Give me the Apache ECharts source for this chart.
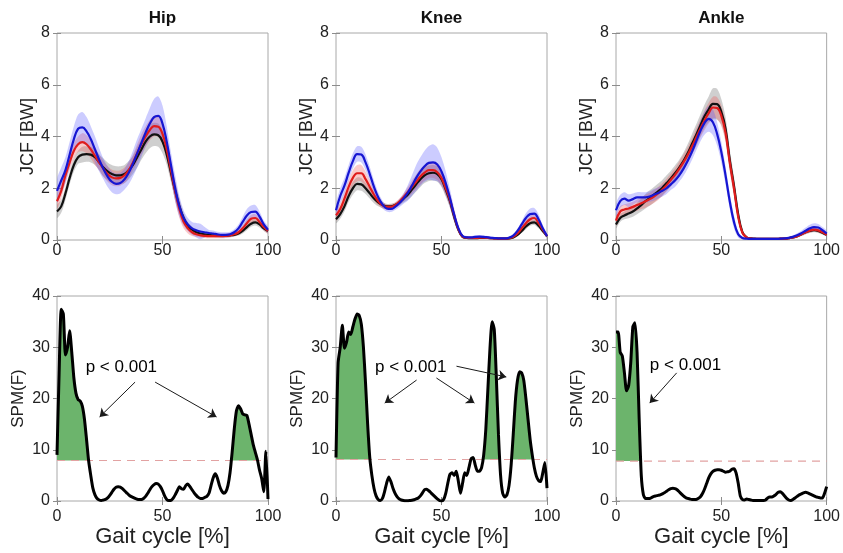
<!DOCTYPE html>
<html>
<head>
<meta charset="utf-8">
<title>JCF and SPM</title>
<script src="https://cdn.jsdelivr.net/npm/echarts@6/dist/echarts.min.js"></script>
<style>
	html, body { margin: 0; padding: 0; background: #fff; }
	#main { width: 843px; height: 553px; }
</style>
</head>
<body>
<div id="main"></div>
<script>
var joints = ['Hip', 'Knee', 'Ankle'];
var jcfTicks = [0, 2, 4, 6, 8];
var spmTicks = [0, 10, 20, 30, 40];
var annotText = 'p < 0.001';

// gait cycle samples (%)
var gaitX = [];
for (var i = 0; i <= 100; i += 2) gaitX.push(i);
var spmX = [];
for (i = 0; i <= 100; i++) spmX.push(i);

// ---- JCF means and sd, one value every 2 % ----
var hipBlackMean = [
	1.1, 1.3, 1.8, 2.4, 2.9, 3.2, 3.3, 3.32, 3.3, 3.2,
	3.0, 2.8, 2.65, 2.55, 2.5, 2.5, 2.55, 2.7, 2.9, 3.2,
	3.5, 3.8, 4.0, 4.08, 4.05, 3.8, 3.3, 2.6, 1.9, 1.3,
	0.85, 0.55, 0.4, 0.3, 0.25, 0.22, 0.2, 0.18, 0.17, 0.17,
	0.17, 0.18, 0.2, 0.25, 0.35, 0.5, 0.63, 0.68, 0.6, 0.45,
	0.35];
var hipBlackSd = [
	0.25, 0.25, 0.25, 0.25, 0.25, 0.25, 0.3, 0.3, 0.3, 0.3,
	0.3, 0.35, 0.35, 0.35, 0.35, 0.35, 0.35, 0.35, 0.35, 0.4,
	0.4, 0.45, 0.45, 0.45, 0.45, 0.45, 0.4, 0.35, 0.35, 0.3,
	0.2, 0.15, 0.12, 0.1, 0.08, 0.06, 0.06, 0.06, 0.06, 0.06,
	0.06, 0.06, 0.06, 0.08, 0.1, 0.12, 0.12, 0.12, 0.12, 0.1,
	0.1];
var hipRedMean = [
	1.5, 1.9, 2.5, 3.0, 3.45, 3.7, 3.78, 3.7, 3.5, 3.25,
	3.0, 2.75, 2.55, 2.42, 2.38, 2.4, 2.5, 2.7, 3.0, 3.35,
	3.7, 4.0, 4.25, 4.4, 4.38, 4.1, 3.5, 2.7, 1.9, 1.2,
	0.7, 0.45, 0.3, 0.22, 0.18, 0.16, 0.15, 0.15, 0.15, 0.15,
	0.16, 0.18, 0.22, 0.3, 0.45, 0.65, 0.82, 0.85, 0.7, 0.5,
	0.35];
var hipRedSd = [
	0.3, 0.3, 0.3, 0.3, 0.3, 0.3, 0.35, 0.35, 0.35, 0.35,
	0.3, 0.3, 0.3, 0.3, 0.3, 0.3, 0.3, 0.3, 0.3, 0.35,
	0.4, 0.4, 0.4, 0.4, 0.4, 0.4, 0.4, 0.4, 0.4, 0.35,
	0.25, 0.2, 0.15, 0.1, 0.08, 0.08, 0.08, 0.08, 0.08, 0.08,
	0.08, 0.08, 0.08, 0.1, 0.12, 0.15, 0.15, 0.15, 0.15, 0.12,
	0.1];
var hipBlueMean = [
	1.9, 2.3, 2.7, 3.3, 3.9, 4.3, 4.35, 4.2, 3.9, 3.5,
	3.1, 2.75, 2.45, 2.25, 2.17, 2.2, 2.35, 2.6, 2.95, 3.35,
	3.75, 4.15, 4.5, 4.75, 4.8, 4.5, 3.8, 2.9, 2.0, 1.3,
	0.85, 0.6, 0.45, 0.38, 0.33, 0.3, 0.27, 0.25, 0.22, 0.2,
	0.2, 0.22, 0.3, 0.45, 0.7, 0.95, 1.08, 1.1, 0.9, 0.6,
	0.4];
var hipBlueSd = [
	0.45, 0.5, 0.5, 0.5, 0.5, 0.55, 0.6, 0.55, 0.5, 0.5,
	0.45, 0.4, 0.4, 0.4, 0.4, 0.4, 0.4, 0.45, 0.5, 0.55,
	0.55, 0.55, 0.6, 0.7, 0.75, 0.7, 0.6, 0.5, 0.5, 0.4,
	0.3, 0.25, 0.25, 0.28, 0.3, 0.2, 0.12, 0.12, 0.1, 0.1,
	0.1, 0.1, 0.12, 0.15, 0.2, 0.25, 0.25, 0.25, 0.2, 0.15,
	0.12];

var kneeBlackMean = [
	0.8, 1.0, 1.3, 1.7, 2.0, 2.17, 2.15, 2.0, 1.8, 1.6,
	1.45, 1.35, 1.3, 1.3, 1.35, 1.45, 1.6, 1.75, 1.95, 2.15,
	2.35, 2.5, 2.58, 2.6, 2.55, 2.35, 1.95, 1.5, 0.9, 0.4,
	0.12, 0.08, 0.07, 0.07, 0.08, 0.08, 0.08, 0.07, 0.06, 0.05,
	0.05, 0.06, 0.1, 0.2, 0.35, 0.52, 0.65, 0.68, 0.55, 0.35,
	0.15];
var kneeBlackSd = [
	0.15, 0.18, 0.2, 0.22, 0.25, 0.25, 0.25, 0.22, 0.2, 0.18,
	0.15, 0.12, 0.1, 0.1, 0.1, 0.12, 0.15, 0.2, 0.25, 0.28,
	0.3, 0.3, 0.3, 0.3, 0.3, 0.3, 0.28, 0.25, 0.2, 0.12,
	0.05, 0.04, 0.04, 0.04, 0.04, 0.04, 0.04, 0.04, 0.04, 0.04,
	0.04, 0.04, 0.05, 0.06, 0.08, 0.1, 0.1, 0.1, 0.1, 0.08,
	0.05];
var kneeRedMean = [
	0.95, 1.2, 1.6, 2.05, 2.4, 2.58, 2.58, 2.35, 2.05, 1.75,
	1.5, 1.35, 1.28, 1.28, 1.35, 1.48, 1.65, 1.85, 2.05, 2.25,
	2.45, 2.6, 2.7, 2.7, 2.62, 2.4, 2.0, 1.55, 0.95, 0.42,
	0.13, 0.09, 0.08, 0.08, 0.09, 0.09, 0.08, 0.07, 0.06, 0.05,
	0.05, 0.07, 0.12, 0.25, 0.45, 0.65, 0.8, 0.85, 0.65, 0.4,
	0.15];
var kneeRedSd = [
	0.2, 0.22, 0.25, 0.28, 0.3, 0.32, 0.32, 0.3, 0.25, 0.2,
	0.15, 0.12, 0.1, 0.1, 0.1, 0.12, 0.15, 0.2, 0.25, 0.28,
	0.3, 0.3, 0.3, 0.3, 0.3, 0.3, 0.28, 0.25, 0.2, 0.12,
	0.05, 0.04, 0.04, 0.04, 0.04, 0.04, 0.04, 0.04, 0.04, 0.04,
	0.04, 0.04, 0.05, 0.06, 0.08, 0.12, 0.12, 0.12, 0.12, 0.08,
	0.05];
var kneeBlueMean = [
	1.15, 1.7, 2.1, 2.6, 3.05, 3.32, 3.3, 3.0, 2.55, 2.05,
	1.65, 1.38, 1.22, 1.2, 1.28, 1.42, 1.6, 1.82, 2.1, 2.4,
	2.65, 2.85, 2.98, 3.0, 2.92, 2.65, 2.2, 1.62, 0.98, 0.45,
	0.15, 0.1, 0.1, 0.12, 0.13, 0.12, 0.1, 0.08, 0.07, 0.06,
	0.06, 0.09, 0.17, 0.35, 0.6, 0.85, 1.0, 1.02, 0.8, 0.45,
	0.15];
var kneeBlueSd = [
	0.25, 0.3, 0.3, 0.3, 0.3, 0.3, 0.3, 0.3, 0.28, 0.25,
	0.2, 0.15, 0.12, 0.12, 0.12, 0.15, 0.2, 0.3, 0.4, 0.5,
	0.55, 0.6, 0.65, 0.7, 0.65, 0.55, 0.45, 0.35, 0.25, 0.15,
	0.06, 0.05, 0.05, 0.06, 0.06, 0.05, 0.05, 0.05, 0.05, 0.05,
	0.05, 0.05, 0.06, 0.08, 0.12, 0.18, 0.22, 0.22, 0.2, 0.12,
	0.06];

var ankleBlackMean = [
	0.6, 0.85, 0.95, 1.02, 1.1, 1.22, 1.35, 1.5, 1.62, 1.75,
	1.88, 2.02, 2.2, 2.38, 2.58, 2.8, 3.05, 3.35, 3.7, 4.05,
	4.42, 4.78, 5.05, 5.26, 5.25, 4.95, 4.3, 3.1, 2.1, 1.0,
	0.3, 0.1, 0.06, 0.05, 0.04, 0.04, 0.04, 0.04, 0.04, 0.05,
	0.05, 0.07, 0.1, 0.15, 0.22, 0.3, 0.35, 0.38, 0.35, 0.28,
	0.2];
var ankleBlackSd = [
	0.15, 0.15, 0.15, 0.18, 0.2, 0.22, 0.25, 0.28, 0.3, 0.3,
	0.3, 0.3, 0.3, 0.3, 0.3, 0.3, 0.32, 0.35, 0.38, 0.4,
	0.42, 0.45, 0.5, 0.6, 0.6, 0.5, 0.45, 0.4, 0.35, 0.2,
	0.1, 0.04, 0.03, 0.03, 0.03, 0.03, 0.03, 0.03, 0.03, 0.03,
	0.03, 0.04, 0.05, 0.06, 0.07, 0.08, 0.08, 0.08, 0.08, 0.07,
	0.06];
var ankleRedMean = [
	0.75, 1.1, 1.18, 1.22, 1.28, 1.35, 1.42, 1.5, 1.58, 1.68,
	1.8, 1.95, 2.12, 2.32, 2.52, 2.75, 3.0, 3.28, 3.6, 3.95,
	4.3, 4.62, 4.9, 5.12, 5.1, 4.8, 4.15, 3.0, 2.0, 0.9,
	0.28, 0.1, 0.06, 0.04, 0.04, 0.04, 0.04, 0.04, 0.04, 0.05,
	0.05, 0.07, 0.1, 0.15, 0.22, 0.3, 0.36, 0.4, 0.37, 0.3,
	0.2];
var ankleRedSd = [
	0.2, 0.2, 0.2, 0.2, 0.2, 0.22, 0.22, 0.25, 0.25, 0.25,
	0.25, 0.25, 0.25, 0.25, 0.25, 0.28, 0.3, 0.3, 0.32, 0.35,
	0.35, 0.38, 0.4, 0.42, 0.42, 0.4, 0.38, 0.35, 0.3, 0.18,
	0.08, 0.04, 0.03, 0.03, 0.03, 0.03, 0.03, 0.03, 0.03, 0.03,
	0.03, 0.04, 0.05, 0.06, 0.07, 0.08, 0.08, 0.08, 0.08, 0.07,
	0.06];
var ankleBlueMean = [
	1.15, 1.5, 1.6, 1.52, 1.58, 1.65, 1.65, 1.65, 1.68, 1.75,
	1.82, 1.9, 2.0, 2.15, 2.3, 2.5, 2.75, 3.05, 3.4, 3.8,
	4.2, 4.52, 4.68, 4.55, 4.1, 3.4, 2.5, 1.5, 0.7, 0.22,
	0.08, 0.05, 0.04, 0.04, 0.04, 0.04, 0.04, 0.04, 0.04, 0.05,
	0.06, 0.08, 0.12, 0.18, 0.26, 0.36, 0.45, 0.5, 0.48, 0.38,
	0.25];
var ankleBlueSd = [
	0.25, 0.25, 0.25, 0.25, 0.22, 0.2, 0.2, 0.2, 0.2, 0.22,
	0.22, 0.22, 0.22, 0.22, 0.25, 0.25, 0.28, 0.3, 0.32, 0.35,
	0.4, 0.45, 0.5, 0.5, 0.45, 0.4, 0.35, 0.3, 0.25, 0.12,
	0.05, 0.03, 0.03, 0.03, 0.03, 0.03, 0.03, 0.03, 0.03, 0.03,
	0.04, 0.05, 0.06, 0.08, 0.1, 0.12, 0.14, 0.15, 0.14, 0.12,
	0.1];

// ---- SPM{F}, one value every 1 % ----
var hipSpm = [
	9.0, 25, 37.4, 36.5, 28.5, 30, 33.2, 29, 24, 21,
	19.8, 19.5, 18.5, 16, 12, 7.8, 5, 2.5, 1.2, 0.5,
	0.2, 0.1, 0.2, 0.3, 0.6, 1.1, 1.7, 2.3, 2.7, 2.8,
	2.7, 2.4, 2.0, 1.6, 1.2, 0.9, 0.7, 0.5, 0.35, 0.3,
	0.3, 0.5, 0.9, 1.5, 2.2, 2.8, 3.2, 3.4, 3.3, 2.8,
	2.0, 1.0, 0.3, 0.1, 0.1, 0.5, 1.2, 2.0, 2.8, 2.4,
	2.3, 3.0, 3.3, 2.8, 2.2, 1.6, 1.1, 0.7, 0.5, 0.5,
	0.7, 0.9, 1.5, 3.0, 4.5, 5.3, 4.5, 3.0, 2.0, 1.5,
	1.8, 3.0, 5.5, 9.5, 14, 17.5, 18.6, 18, 17, 16.8,
	16.7, 15, 13, 11, 9.5, 8, 6, 4.4, 1.8, 9.7,
	0.4];
var kneeSpm = [
	8.5, 27, 30, 34.3, 29.8, 31, 33, 32.5, 34, 35.5,
	36.5, 36.2, 34.5, 30, 23, 15, 8.5, 5, 2.5, 1,
	0.3, 0.1, 0.5, 1.8, 3.5, 4.7, 3.8, 2.5, 1.5, 0.8,
	0.4, 0.2, 0.1, 0.05, 0.05, 0.1, 0.15, 0.25, 0.4, 0.6,
	1.0, 1.6, 2.2, 2.3, 2.0, 1.6, 1.2, 0.8, 0.4, 0.1,
	0.0, 0.3, 1.5, 3.5, 5.2, 5.5, 5.0, 5.8, 3.8, 1.5,
	3.5, 5.5, 5.0, 6.5, 8.2, 8.5, 7.0, 5.8, 5.8, 6.5,
	9, 14, 22, 30, 35, 33.5, 24, 13, 5, 1.5,
	0.8, 1.2, 3, 7, 13, 19.5, 23.5, 25.2, 25, 23.5,
	20, 16, 12, 9, 6.5, 4.8, 4.0, 3.8, 5.5, 7.5,
	2.5];
var ankleSpm = [
	33, 33, 29, 28.3, 25, 21.5, 22.5, 27, 34, 34.8,
	29, 16, 5, 1.2, 0.5, 0.5, 0.5, 0.7, 0.9, 1.0,
	1.1, 1.2, 1.4, 1.6, 1.9, 2.2, 2.4, 2.5, 2.4, 2.2,
	1.8, 1.4, 1.0, 0.7, 0.5, 0.4, 0.3, 0.3, 0.3, 0.5,
	0.8, 1.4, 2.3, 3.4, 4.5, 5.3, 5.8, 6.0, 6.1, 6.1,
	6.0, 5.8, 5.6, 5.7, 5.8, 6.2, 6.3, 5.5, 3.5, 1.0,
	0.3, 0.2, 0.4, 0.3, 0.2, 0.1, 0.1, 0.1, 0.1, 0.1,
	0.1, 0.2, 0.6, 0.8, 0.8, 1.0, 1.3, 1.7, 1.8, 1.5,
	1.0, 0.5, 0.2, 0.1, 0.3, 0.6, 0.9, 1.2, 1.4, 1.6,
	1.7, 1.6, 1.4, 1.2, 1.0, 0.8, 0.7, 0.6, 0.6, 1.5,
	2.8];

// critical thresholds and supra-threshold clusters (% ranges)
var spmThreshold = [7.9, 8.1, 7.8];
var hipClusters = [[0, 15], [82, 96]];
var kneeClusters = [[0, 17], [69, 78], [82, 94]];
var ankleClusters = [[0, 12]];

// annotation text position and arrows [x1, y1, x2, y2] in data units
var annotPos = [[30.5, 26.1], [35.4, 26], [33, 26.5]];
var hipArrows = [[37, 23.2, 20.2, 16.4], [46.5, 23.2, 75.6, 16.4]];
var kneeArrows = [[38.2, 23.6, 23.1, 19.1], [47.6, 24, 65.6, 19.1], [57.1, 26.3, 80.7, 24.2]];
var ankleArrows = [[28.8, 25, 16, 19.1]];

var groupStyle = [
	{ line: '#111111', band: 'rgba(95,95,95,0.30)' },
	{ line: '#e01c1c', band: 'rgba(240,80,80,0.30)' },
	{ line: '#1616d2', band: 'rgba(85,85,255,0.30)' }
];
var jcfPanels = [
	[[hipBlackMean, hipBlackSd], [hipRedMean, hipRedSd], [hipBlueMean, hipBlueSd]],
	[[kneeBlackMean, kneeBlackSd], [kneeRedMean, kneeRedSd], [kneeBlueMean, kneeBlueSd]],
	[[ankleBlackMean, ankleBlackSd], [ankleRedMean, ankleRedSd], [ankleBlueMean, ankleBlueSd]]
];
var spmPanels = [hipSpm, kneeSpm, ankleSpm];
var clusterPanels = [hipClusters, kneeClusters, ankleClusters];
var arrowPanels = [hipArrows, kneeArrows, ankleArrows];

var lefts = [57, 336, 616];
var font = "'Liberation Sans', Arial, sans-serif";
var boxColor = '#a8a8a8';

function pairs(xs, ys) {
	return xs.map(function(x, i) { return [x, ys[i]]; });
}

// shaded region between lo and hi, drawn as one polygon through the axis scales
function bandSeries(g, xs, lo, hi, color, smooth) {
	var rows = xs.map(function(x, i) { return [x, lo[i], hi[i]]; });
	return {
		type: 'custom', xAxisIndex: 2 * g, yAxisIndex: 2 * g, silent: true, clip: true,
		data: rows, encode: { x: 0, y: [1, 2] },
		renderItem: function(params, api) {
			if (params.dataIndex !== 0) return null;
			var pts = [];
			rows.forEach(function(r) { pts.push(api.coord([r[0], r[2]])); });
			for (var k = rows.length - 1; k >= 0; k--) pts.push(api.coord([rows[k][0], rows[k][1]]));
			return {
				type: 'polygon', shape: { points: pts, smooth: smooth },
				style: { fill: color }
			};
		}
	};
}

var grids = [], xAxes = [], yAxes = [], series = [];

function addAxes(g, ymax, yint, isTop, k) {
	grids.push({
		left: lefts[k], width: 211,
		top: isTop ? 33 : 296, height: isTop ? 207 : 205,
		show: true, borderColor: boxColor, borderWidth: 1, backgroundColor: '#fff'
	});
	var tick = { show: true, inside: true, length: 4, lineStyle: { color: '#8c8c8c' } };
	xAxes.push({
		gridIndex: g, type: 'value', min: 0, max: 100, interval: 50,
		axisLine: { show: false }, axisTick: tick, splitLine: { show: false },
		axisLabel: { color: '#222', fontSize: 16, fontFamily: font, margin: isTop ? 3 : 8 },
		name: isTop ? '' : 'Gait cycle [%]', nameLocation: 'middle', nameGap: 25,
		nameTextStyle: { color: '#222', fontSize: 22, fontFamily: font }
	});
	xAxes.push({
		gridIndex: g, type: 'value', min: 0, max: 100, interval: 50, position: 'top',
		axisLine: { show: false }, axisTick: tick, splitLine: { show: false },
		axisLabel: { show: false },
		name: isTop ? joints[k] : '', nameLocation: 'middle', nameGap: 6,
		nameTextStyle: { color: '#111', fontSize: 17, fontWeight: 'bold', fontFamily: font }
	});
	yAxes.push({
		gridIndex: g, type: 'value', min: 0, max: ymax, interval: yint,
		axisLine: { show: false }, axisTick: tick, splitLine: { show: false },
		axisLabel: { color: '#222', fontSize: 16, fontFamily: font, margin: 7 },
		name: isTop ? 'JCF [BW]' : 'SPM(F)', nameLocation: 'middle', nameRotate: 90,
		nameGap: isTop ? 20 : 30,
		nameTextStyle: { color: '#222', fontSize: isTop ? 18 : 17, fontFamily: font }
	});
	yAxes.push({
		gridIndex: g, type: 'value', min: 0, max: ymax, interval: yint, position: 'right',
		axisLine: { show: false }, axisTick: tick, splitLine: { show: false },
		axisLabel: { show: false }
	});
}

// top row: JCF mean +- sd
jcfPanels.forEach(function(groups, k) {
	var g = k;
	addAxes(g, jcfTicks[jcfTicks.length - 1], jcfTicks[1] - jcfTicks[0], true, k);
	groups.forEach(function(grp, j) {
		var mean = grp[0], sd = grp[1];
		series.push(bandSeries(g, gaitX,
			mean.map(function(m, i) { return m - sd[i]; }),
			mean.map(function(m, i) { return m + sd[i]; }),
			groupStyle[j].band, 0.3));
	});
	groups.forEach(function(grp, j) {
		series.push({
			type: 'line', xAxisIndex: 2 * g, yAxisIndex: 2 * g, symbol: 'none',
			smooth: 0.4, silent: true, data: pairs(gaitX, grp[0]),
			lineStyle: { color: groupStyle[j].line, width: 2.2 }
		});
	});
});

// bottom row: SPM{F}
spmPanels.forEach(function(spm, k) {
	var g = 3 + k;
	var thr = spmThreshold[k];
	addAxes(g, spmTicks[spmTicks.length - 1], spmTicks[1] - spmTicks[0], false, k);
	series.push({
		type: 'line', xAxisIndex: 2 * g, yAxisIndex: 2 * g, symbol: 'none', silent: true,
		data: [[0, thr], [100, thr]],
		lineStyle: { color: '#e2a2a2', width: 1.2, type: [8, 6] }
	});
	clusterPanels[k].forEach(function(c) {
		var xs = spmX.filter(function(x) { return x >= c[0] && x <= c[1]; });
		series.push(bandSeries(g, xs,
			xs.map(function() { return thr; }),
			xs.map(function(x) { return Math.max(spm[x], thr); }),
			'#6cb46c', 0));
	});
	series.push({
		type: 'line', xAxisIndex: 2 * g, yAxisIndex: 2 * g, symbol: 'none', silent: true,
		data: pairs(spmX, spm), smooth: 0.2,
		lineStyle: { color: '#000', width: 3 }
	});
	series.push({
		type: 'scatter', xAxisIndex: 2 * g, yAxisIndex: 2 * g, silent: true,
		symbolSize: 0, data: [annotPos[k]],
		itemStyle: { opacity: 1 },
		label: {
			show: true, position: 'inside', formatter: annotText, opacity: 1,
			color: '#000', fontSize: 17, fontFamily: font
		},
		markLine: {
			silent: true, animation: false,
			symbol: ['none', 'arrow'], symbolSize: 8,
			label: { show: false },
			lineStyle: { color: '#1a1a1a', width: 1, type: 'solid', opacity: 1 },
			data: arrowPanels[k].map(function(a) {
				return [{ coord: [a[0], a[1]] }, { coord: [a[2], a[3]] }];
			})
		}
	});
});

var myChart = echarts.init(document.getElementById('main'));
myChart.setOption({
	animation: false,
	backgroundColor: '#fff',
	grid: grids,
	xAxis: xAxes,
	yAxis: yAxes,
	series: series
});
</script>
</body>
</html>
